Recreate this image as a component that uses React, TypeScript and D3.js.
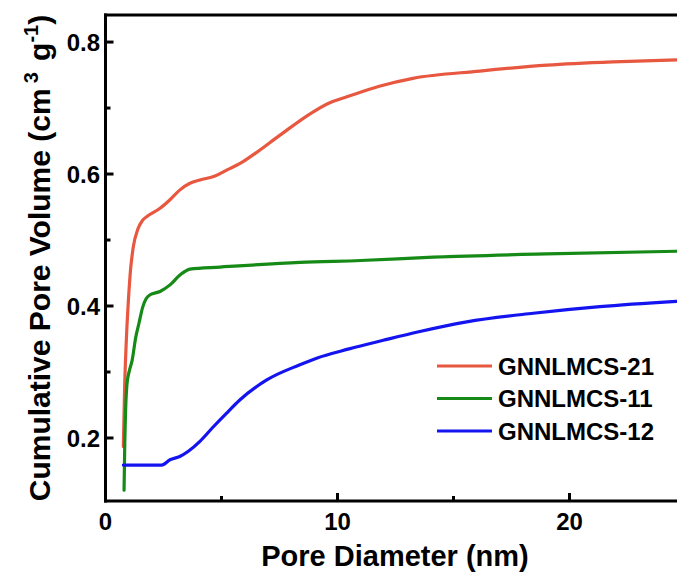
import React from "react";
import * as d3 from "d3";

const seriesNames = ["GNNLMCS-21", "GNNLMCS-11", "GNNLMCS-12"];
const seriesColors = ["#E8573F", "#168A16", "#1414F0"];

const red21: [number, number][] = [
  [0.77, 0.187], [0.82, 0.27], [0.9, 0.35], [0.99, 0.41], [1.08, 0.455], [1.2, 0.49],
  [1.4, 0.517], [1.6, 0.53], [1.8, 0.536], [2.35, 0.548], [2.78, 0.561], [3.21, 0.576],
  [3.64, 0.586], [4.07, 0.591], [4.72, 0.597], [5.22, 0.606], [5.8, 0.616], [6.44, 0.631],
  [7.52, 0.659], [8.94, 0.694], [9.67, 0.708], [10.41, 0.717], [11.8, 0.733], [13.25, 0.745],
  [16.14, 0.756], [19.03, 0.765], [21.87, 0.77], [24.63, 0.773],
];
const green11: [number, number][] = [
  [0.8, 0.121], [0.83, 0.19], [0.87, 0.245], [0.93, 0.283], [1.03, 0.302], [1.15, 0.318],
  [1.3, 0.352], [1.45, 0.375], [1.6, 0.398], [1.75, 0.411], [1.92, 0.417], [2.35, 0.422],
  [2.78, 0.432], [3.21, 0.447], [3.64, 0.456], [4.94, 0.459], [8.38, 0.466], [11, 0.469],
  [14.13, 0.474], [19, 0.479], [24.62, 0.483],
];
const blue12: [number, number][] = [
  [0.77, 0.159], [2.42, 0.159], [2.78, 0.167], [3.2, 0.172], [3.57, 0.18], [4.07, 0.195],
  [4.65, 0.217], [5.2, 0.237], [5.8, 0.258], [6.95, 0.288], [8.38, 0.311], [9.1, 0.321],
  [10.5, 0.335], [11.97, 0.348], [13.5, 0.361], [15.57, 0.376], [18.44, 0.389], [21.31, 0.399],
  [24.62, 0.407],
];
const seriesData = [red21, green11, blue12];

const xMajorTicks = [0, 10, 20];
const xMinorTicks = [5, 15, 25];
const yMajorTicks = [0.2, 0.4, 0.6, 0.8];
const yMinorTicks = [0.3, 0.5, 0.7];

const W = 677;
const H = 580;
const FONT = "'Liberation Sans', Arial, Helvetica, sans-serif";

export default function App() {
  const x = d3.scaleLinear().domain([0, 25]).range([105.5, 685.5]);
  const y = d3.scaleLinear().domain([0.1045, 0.841]).range([501, 15]);
  const line = d3
    .line<[number, number]>()
    .x((d) => x(d[0]))
    .y((d) => y(d[1]))
    .curve(d3.curveMonotoneX);

  const left = x(0);
  const bottom = y(0.1045);
  const top = y(0.841);
  const right = x(25);

  return (
    <svg
      width={W}
      height={H}
      style={{ position: "absolute", left: 0, top: 0, background: "#fff" }}
      fontFamily={FONT}
    >
      <rect x={0} y={0} width={W} height={H} fill="#ffffff" />
      <defs>
        <clipPath id="plotclip">
          <rect x={left} y={top} width={right - left} height={bottom - top} />
        </clipPath>
      </defs>
      <g clipPath="url(#plotclip)">
        {seriesData.map((d, i) => (
          <path
            key={i}
            d={line(d) || ""}
            fill="none"
            stroke={seriesColors[i]}
            strokeWidth={3.2}
            strokeLinejoin="round"
            strokeLinecap="round"
          />
        ))}
      </g>
      {/* frame */}
      <line x1={left} x2={left} y1={top - 1.5} y2={bottom + 1.5} stroke="#000" strokeWidth={3} />
      <line x1={left - 1.5} x2={W + 10} y1={bottom} y2={bottom} stroke="#000" strokeWidth={3} />
      <line x1={left - 1.5} x2={W + 10} y1={top} y2={top} stroke="#000" strokeWidth={3} />
      {/* y ticks */}
      {yMajorTicks.map((t) => (
        <g key={"ym" + t}>
          <line x1={left} x2={left + 8} y1={y(t)} y2={y(t)} stroke="#000" strokeWidth={3} />
          <text x={100} y={y(t)} dy="0.36em" textAnchor="end" fontSize={24} fontWeight="bold">
            {t.toFixed(1)}
          </text>
        </g>
      ))}
      {yMinorTicks.map((t) => (
        <line key={"yn" + t} x1={left} x2={left + 5} y1={y(t)} y2={y(t)} stroke="#000" strokeWidth={3} />
      ))}
      {/* x ticks */}
      {xMajorTicks.map((t) => (
        <g key={"xm" + t}>
          <line x1={x(t)} x2={x(t)} y1={bottom} y2={bottom - 8} stroke="#000" strokeWidth={3} />
          <text x={x(t)} y={530} textAnchor="middle" fontSize={24} fontWeight="bold">
            {t}
          </text>
        </g>
      ))}
      {xMinorTicks.map((t) => (
        <line key={"xn" + t} x1={x(t)} x2={x(t)} y1={bottom} y2={bottom - 5} stroke="#000" strokeWidth={3} />
      ))}
      {/* axis titles */}
      <text x={395} y={566} textAnchor="middle" fontSize={29} fontWeight="bold">
        Pore Diameter (nm)
      </text>
      <text
        transform={`translate(50,258) rotate(-90)`}
        textAnchor="middle"
        fontSize={30}
        fontWeight="bold"
      >
        Cumulative Pore Volume (cm
        <tspan fontSize={20} dx={5} dy={-12}>3</tspan>
        <tspan dx={3} dy={12}> g</tspan>
        <tspan fontSize={20} dy={-12}>-1</tspan>
        <tspan dy={12}>)</tspan>
      </text>
      {/* legend */}
      {seriesNames.map((n, i) => {
        const ly = 366 + i * 32.5;
        return (
          <g key={n}>
            <line x1={437} x2={492} y1={ly} y2={ly} stroke={seriesColors[i]} strokeWidth={3.2} />
            <text x={498} y={ly} dy="0.36em" fontSize={24} fontWeight="bold">
              {n}
            </text>
          </g>
        );
      })}
    </svg>
  );
}
